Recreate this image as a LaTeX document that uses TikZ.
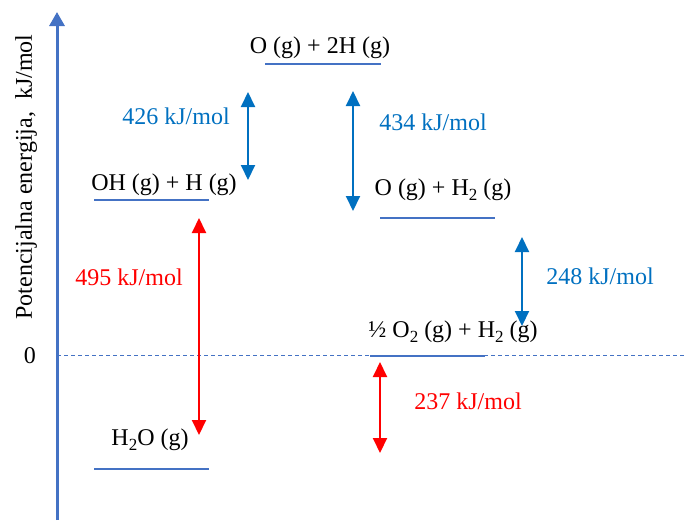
\documentclass[tikz,border=0pt]{standalone}
\usepackage{fontspec}
\setmainfont{Liberation Serif}
\usetikzlibrary{arrows.meta}
\definecolor{axisblue}{HTML}{4472C4}
\definecolor{arrblue}{HTML}{0070C0}
\definecolor{arrred}{HTML}{FF0000}
\newcommand{\indx}[1]{\raisebox{-2.5pt}{\fontsize{8.5}{9}\selectfont #1}}

\begin{document}
\begin{tikzpicture}[x=0.5pt, y=-0.5pt, font=\fontsize{12}{14}\selectfont,
    txt/.style={anchor=base, inner sep=0pt},
    level/.style={draw=axisblue, line width=0.6pt},
    bluearr/.style={draw=arrblue, line width=1pt, {Triangle[length=7.5pt,width=7pt]}-{Triangle[length=7.5pt,width=7pt]}},
    redarr/.style={draw=arrred, line width=1pt, {Triangle[length=7.5pt,width=7pt]}-{Triangle[length=7.5pt,width=7pt]}}]
    \useasboundingbox (0,0) rectangle (684,520);
    % os energije
    \coordinate (ybot) at (57,520);
    \coordinate (ytop) at (57,12);
    \draw[axisblue, line width=1.5pt, -{Triangle[length=7pt,width=7.5pt]}] (ybot) -- (ytop);
    \node[txt, rotate=90] (ylab) at (32,177) {Potencijalna energija,\ \ kJ/mol};
    \node[txt] (zero) at (30,363) {0};
    \coordinate (zl) at (57,355.5);
    \coordinate (zr) at (684,355.5);
    \draw[axisblue, line width=0.8pt, dash pattern=on 2pt off 1.5pt] (zl) -- (zr);

    % nivoi
    \node[txt] (oh2) at (320,53) {O (g) + 2H (g)};
    \draw[level] (265,64) -- (381,64);
    \node[txt] (ohh) at (164,190) {OH (g) + H (g)};
    \draw[level] (94,200) -- (209,200);
    \node[txt] (oh) at (443,195) {O (g) + H\indx{2} (g)};
    \draw[level] (380,218) -- (495,218);
    \node[txt] (ref) at (453,337) {½ O\indx{2} (g) + H\indx{2} (g)};
    \draw[level] (370,356) -- (485,356);
    \node[txt] (voda) at (150,445) {H\indx{2}O (g)};
    \draw[level] (94,469) -- (209,469);

    % energije veza
    \coordinate (a426t) at (248,92);
    \coordinate (a426b) at (248,180);
    \draw[bluearr] (a426t) -- (a426b);
    \node[txt, text=arrblue] (e426) at (176,124) {426 kJ/mol};
    \coordinate (a434t) at (353,91);
    \coordinate (a434b) at (353,211);
    \draw[bluearr] (a434t) -- (a434b);
    \node[txt, text=arrblue] (e434) at (433,130) {434 kJ/mol};
    \coordinate (a248t) at (522,237);
    \coordinate (a248b) at (522,326);
    \draw[bluearr] (a248t) -- (a248b);
    \node[txt, text=arrblue] (e248) at (600,284) {248 kJ/mol};
    \coordinate (a495t) at (199,218);
    \coordinate (a495b) at (199,435);
    \draw[redarr] (a495t) -- (a495b);
    \node[txt, text=arrred] (e495) at (129,285) {495 kJ/mol};
    \coordinate (a237t) at (380,362);
    \coordinate (a237b) at (380,453);
    \draw[redarr] (a237t) -- (a237b);
    \node[txt, text=arrred] (e237) at (468,409) {237 kJ/mol};
\end{tikzpicture}
\end{document}
